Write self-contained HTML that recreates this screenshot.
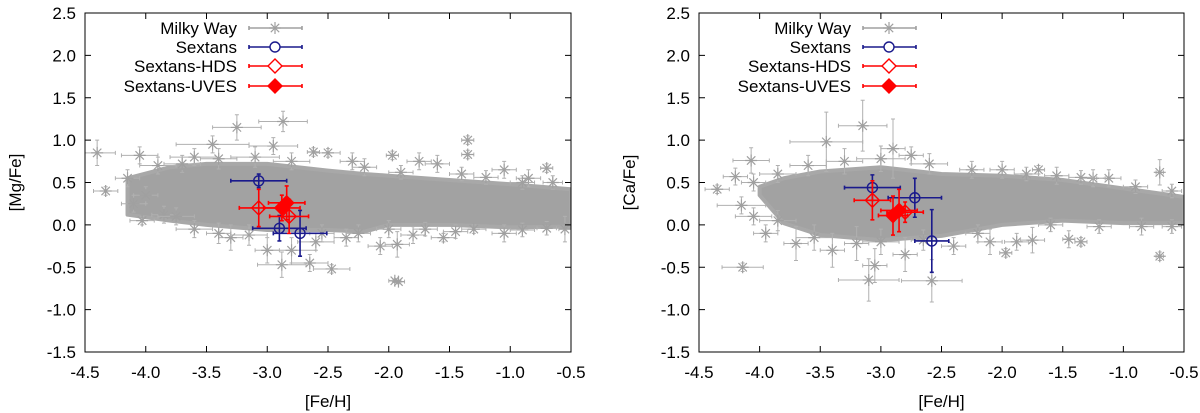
<!DOCTYPE html>
<html><head><meta charset="utf-8"><style>
html,body{margin:0;padding:0;background:#fff;}
svg{display:block;font-family:"Liberation Sans",sans-serif;}
</style></head><body>
<svg id="chart" width="1200" height="413" viewBox="0 0 1200 413" xmlns="http://www.w3.org/2000/svg"></svg>
<script>
// ---- data ----
const xTicks = [-4.5,-4.0,-3.5,-3.0,-2.5,-2.0,-1.5,-1.0,-0.5];
const yTicks = [-1.5,-1.0,-0.5,0.0,0.5,1.0,1.5,2.0,2.5];
const legendLabels = ["Milky Way","Sextans","Sextans-HDS","Sextans-UVES"];
// Milky Way dense band envelope: [Fe/H], upper, lower
const mgBandFe = [-4.15,-3.8,-3.5,-3.0,-2.5,-2.2,-2.0,-1.5,-1.0,-0.5];
const mgBandHi = [0.55,0.68,0.72,0.72,0.64,0.6,0.58,0.53,0.48,0.42];
const mgBandLo = [0.12,0.05,0.0,-0.06,-0.06,-0.08,0.0,0.0,-0.03,-0.02];
const caBandFe = [-4.0,-3.8,-3.5,-3.0,-2.5,-2.0,-1.5,-1.0,-0.5];
const caBandHi = [0.45,0.55,0.63,0.68,0.6,0.58,0.53,0.43,0.33];
const caBandLo = [0.35,0.02,-0.12,-0.18,-0.13,0.0,0.05,0.02,0.02];
// Milky Way individual stars [Fe/H, X/Fe, xerr, yerr]
const mgMW = [[-4.4,0.85,.15,.15],[-4.33,0.4,.1,.05],[-4.05,0.82,.15,.1],[-4.1,0.25,.1,.1],[-4.03,0.05,.1,.05],[-3.85,0.12,.1,.1],[-3.25,1.15,.2,.15],[-2.87,1.22,.2,.12],[-3.45,0.95,.3,.1],[-2.95,0.93,.2,.1],[-2.5,0.85,.1,.05],[-2.62,0.86,.05,.05],[-1.35,1.0,.05,.05],[-1.35,0.83,.05,.05],[-1.97,0.82,.05,.05],[-0.7,0.67,.05,.05],[-1.95,-0.66,.05,.02],[-1.92,-0.67,.05,.02],[-2.47,-0.52,.15,.05],[-2.88,-0.47,.2,.15],[-2.65,-0.45,.15,.1],[-2.8,-0.3,.2,.15],[-2.6,-0.2,.15,.1],[-2.35,-0.15,.1,.1],[-2.07,-0.25,.1,.1],[-1.93,-0.23,.1,.15],[-1.55,-0.15,.1,.05],[-1.05,-0.1,.1,.1],[-1.3,-0.05,.1,.05],[-3.0,-0.3,.1,.15],[-3.3,-0.15,.1,.15],[-3.75,0.1,.15,.1],[-4.0,0.35,.1,.1],[-3.6,0.8,.2,.1],[-1.75,0.75,.1,.1],[-1.6,0.72,.1,.1],[-1.05,0.65,.1,.1],[-0.85,0.55,.1,.1],[-4.15,0.55,.1,.1],[-3.9,0.7,.15,.1],[-2.3,0.75,.1,.1],[-1.8,-0.12,.1,.1],[-0.55,-0.05,.05,.15],
[-3.7,0.72,.15,.1],[-3.4,0.78,.15,.12],[-3.1,0.8,.2,.12],[-2.8,0.75,.15,.1],[-2.2,0.68,.1,.1],[-1.9,0.62,.1,.08],[-1.4,0.6,.1,.08],[-1.2,0.56,.1,.08],[-0.9,0.5,.1,.08],[-0.65,0.5,.08,.08],
[-3.6,-0.05,.15,.1],[-3.4,-0.1,.1,.12],[-3.15,-0.12,.15,.12],[-2.55,-0.1,.1,.1],[-2.25,-0.1,.1,.1],[-1.7,-0.05,.1,.08],[-1.45,-0.08,.1,.08],[-0.9,-0.06,.1,.08],[-0.7,-0.04,.08,.08],[-2.0,-0.05,.1,.1]];
const caMW = [[-4.35,0.42,.1,.05],[-4.14,-0.5,.17,.05],[-4.07,0.76,.15,.15],[-4.2,0.57,.1,.1],[-4.15,0.23,.2,.1],[-4.05,0.1,.15,.1],[-3.95,-0.1,.1,.1],[-3.15,1.17,.2,.3],[-3.45,0.98,.3,.35],[-2.9,0.9,.1,.35],[-2.75,0.82,.1,.1],[-3.1,-0.65,.25,.25],[-2.58,-0.66,.25,.25],[-3.05,-0.48,.1,.2],[-2.8,-0.35,.1,.2],[-0.7,0.62,.03,.15],[-0.7,-0.37,.03,.05],[-1.45,-0.17,.05,.1],[-1.35,-0.2,.05,.05],[-1.97,-0.33,.05,.05],[-1.88,-0.2,.1,.1],[-2.1,-0.2,.1,.15],[-1.75,-0.18,.1,.15],[-1.7,0.65,.05,.05],[-1.12,0.55,.1,.1],[-3.7,-0.22,.1,.2],[-3.4,-0.3,.1,.2],[-3.2,-0.22,.1,.2],[-2.4,-0.25,.1,.1],[-3.85,0.6,.15,.1],[-4.05,0.5,.1,.1],[-1.55,0.58,.1,.1],[-1.25,0.55,.1,.1],[-2.25,0.65,.1,.1],
[-3.6,0.7,.15,.12],[-3.3,0.75,.15,.15],[-3.0,0.78,.2,.15],[-2.6,0.72,.15,.12],[-2.0,0.65,.1,.1],[-1.8,0.6,.1,.08],[-1.35,0.56,.1,.08],[-0.9,0.45,.1,.08],[-0.6,0.4,.08,.08],
[-3.85,0.05,.15,.12],[-3.55,-0.15,.15,.15],[-3.0,-0.2,.15,.15],[-2.65,-0.18,.1,.12],[-2.2,-0.1,.1,.1],[-1.6,0.0,.1,.08],[-1.2,-0.02,.1,.08],[-0.85,-0.02,.1,.1],[-0.6,-0.02,.08,.08]];
// Sextans [Fe/H, X/Fe, xerr, yerr]
const mgSex = [[-3.07,0.52,.23,.08],[-2.9,-0.04,.22,.15],[-2.73,-0.1,.22,.27]];
const mgHDS = [[-3.07,0.2,.16,.22],[-2.82,0.1,.16,.2]];
const mgUVES = [[-2.88,0.2,.15,.15],[-2.84,0.26,.15,.2]];
const caSex = [[-3.07,0.44,.23,.15],[-2.72,0.32,.22,.23],[-2.58,-0.19,.14,.37]];
const caHDS = [[-3.07,0.29,.15,.23],[-2.8,0.15,.15,.12]];
const caUVES = [[-2.9,0.11,.12,.23],[-2.85,0.17,.15,.25]];

const NS="http://www.w3.org/2000/svg";
const svg=document.getElementById('chart');
function mk(tag,attrs,parent){const e=document.createElementNS(NS,tag);for(const k in attrs)e.setAttribute(k,attrs[k]);(parent||svg).appendChild(e);return e;}
const GRAY="#a0a0a0", BLUE="#1a1a8c", RED="#ff0000";

function star(g,cx,cy,r,col){
  return mk('path',{d:`M${cx-r},${cy}H${cx+r}M${cx},${cy-r}V${cy+r}M${cx-r*0.7},${cy-r*0.7}L${cx+r*0.7},${cy+r*0.7}M${cx-r*0.7},${cy+r*0.7}L${cx+r*0.7},${cy-r*0.7}`,stroke:col,'stroke-width':1.2,fill:'none'},g);
}
function errbar(g,x0,x1,y0,y1,cx,cy,col,w){
  const c=4;
  mk('path',{d:`M${x0},${cy}H${x1}M${x0},${cy-c/2}v${c}M${x1},${cy-c/2}v${c}M${cx},${y0}V${y1}M${cx-c/2},${y0}h${c}M${cx-c/2},${y1}h${c}`,stroke:col,'stroke-width':w,fill:'none'},g);
}

function panel(L,R,T,B,yTitle,band,mw,sex,hds,uves,legendRight,name){
  const g=mk('g',{});
  
  
  const X=v=>L+(v+4.5)/4*(R-L);
  const Y=v=>B-(v+1.5)/4*(B-T);
  const clip='clip-'+name;
  const cp=mk('clipPath',{id:clip},g);mk('rect',{x:L,y:T,width:R-L,height:B-T},cp);
  const data=mk('g',{'clip-path':`url(#${clip})`},g);
  
  
  const [bf,bh,bl]=band;
  let d='M'+bf.map((f,i)=>X(f)+','+Y(bh[i])).join('L');
  for(let i=bf.length-1;i>=0;i--)d+='L'+X(bf[i])+','+Y(bl[i]);
  const bp=mk('path',{d:d+'Z',fill:'#a2a2a2',stroke:'#a8a8a8','stroke-width':4,'stroke-linejoin':'round'},data);
  
  
  mw.forEach(p=>{
    const s=mk('g',{},data);
    
    
    errbar(s,X(p[0]-p[2]),X(p[0]+p[2]),Y(p[1]+p[3]),Y(p[1]-p[3]),X(p[0]),Y(p[1]),'#b0b0b0',1);
    star(s,X(p[0]),Y(p[1]),6,GRAY);
  });
  const drawSet=(arr,col,kind,nm)=>arr.forEach(p=>{
    const s=mk('g',{},data);
    
    
    const cx=X(p[0]),cy=Y(p[1]);
    errbar(s,X(p[0]-p[2]),X(p[0]+p[2]),Y(p[1]+p[3]),Y(p[1]-p[3]),cx,cy,col,1.6);
    if(kind==='circle')mk('circle',{cx,cy,r:5,fill:'none',stroke:col,'stroke-width':1.4},s);
    else mk('path',{d:`M${cx},${cy-7}L${cx+7},${cy}L${cx},${cy+7}L${cx-7},${cy}Z`,fill:kind==='fill'?col:'none',stroke:col,'stroke-width':1.4},s);
  });
  drawSet(sex,BLUE,'circle','sextans-point');
  drawSet(hds,RED,'open','sextans-hds-point');
  drawSet(uves,RED,'fill','sextans-uves-point');
  const fr=mk('rect',{x:L,y:T,width:R-L,height:B-T,fill:'none',stroke:'#000','stroke-width':1},g);
  
  
  xTicks.forEach(v=>{
    const x=X(v);
    mk('path',{d:`M${x},${B}v-6M${x},${T}v6`,stroke:'#000','stroke-width':1},g);
    const t=mk('text',{x,y:B+26,'text-anchor':'middle','font-size':17,fill:'#000'},g);
    t.textContent=v.toFixed(1);
    
    
  });
  yTicks.forEach(v=>{
    const y=Y(v);
    mk('path',{d:`M${L},${y}h6M${R},${y}h-6`,stroke:'#000','stroke-width':1},g);
    const t=mk('text',{x:L-9,y:y+6,'text-anchor':'end','font-size':17,fill:'#000'},g);
    t.textContent=v.toFixed(1);
    
    
  });
  const xt=mk('text',{x:(L+R)/2,y:407,'text-anchor':'middle','font-size':17},g);
  xt.textContent='[Fe/H]';
  
  
  const yt=mk('text',{x:0,y:0,'text-anchor':'middle','font-size':17,transform:`translate(${L-64},${(T+B)/2}) rotate(-90)`},g);
  yt.textContent=yTitle;
  
  
  const rows=[28,47,66,86];
  const cols=[GRAY,BLUE,RED,RED];
  const kinds=['star','circle','open','fill'];
  legendLabels.forEach((lab,i)=>{
    const le=mk('g',{},g);
    
    
    const y=rows[i];
    const t=mk('text',{x:legendRight,y:y+6,'text-anchor':'end','font-size':17},le);
    t.textContent=lab;
    const x0=legendRight+12,x1=legendRight+65,cx=legendRight+38;
    mk('path',{d:`M${x0},${y}H${x1}M${x0},${y-2}v4M${x1},${y-2}v4`,stroke:cols[i],'stroke-width':1.6},le);
    if(kinds[i]==='star')star(le,cx,y,6,GRAY);
    else if(kinds[i]==='circle')mk('circle',{cx,cy:y,r:5,fill:'#fff',stroke:BLUE,'stroke-width':1.4},le);
    else mk('path',{d:`M${cx},${y-7}L${cx+7},${y}L${cx},${y+7}L${cx-7},${y}Z`,fill:kinds[i]==='fill'?RED:'#fff',stroke:RED,'stroke-width':1.4},le);
  });
}
panel(85,571,13,352,'[Mg/Fe]',[mgBandFe,mgBandHi,mgBandLo],mgMW,mgSex,mgHDS,mgUVES,237,'mg-panel');
panel(699,1184,13,352,'[Ca/Fe]',[caBandFe,caBandHi,caBandLo],caMW,caSex,caHDS,caUVES,851,'ca-panel');
</script>
</body></html>
